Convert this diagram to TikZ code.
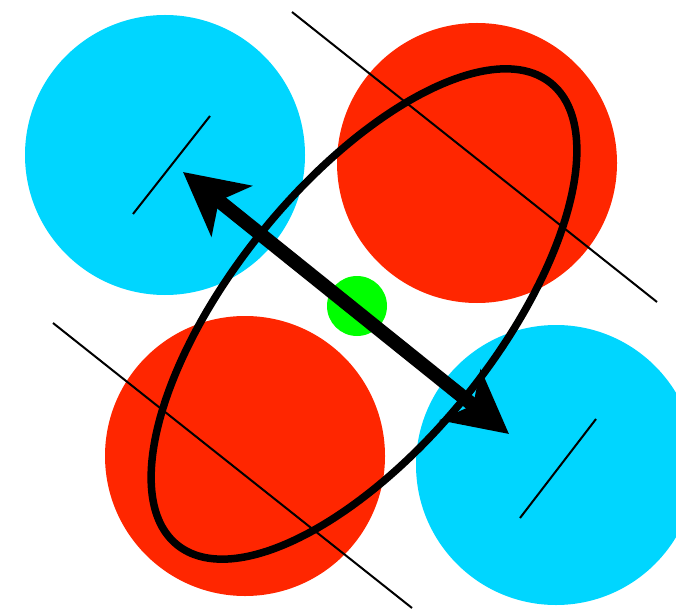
\documentclass[tikz,border=0pt]{standalone}
\usetikzlibrary{arrows.meta}

\definecolor{ioncyan}{RGB}{0,214,255}
\definecolor{ionred}{RGB}{255,38,0}
\definecolor{iongreen}{RGB}{0,255,0}

\begin{document}
\begin{tikzpicture}[x=1pt, y=-1pt, >={Stealth[length=62pt, width=64pt, inset=16pt]}]

    % Frame
    \useasboundingbox (0,0) rectangle (676,609);
    \clip (0,0) rectangle (676,609);

    % Centres of the four ions
    \coordinate (c1) at (165,155);
    \coordinate (c2) at (477,163);
    \coordinate (c3) at (245,456);
    \coordinate (c4) at (556,465);
    \coordinate (g) at (357,306);

    % Draw the ions
    \foreach \c/\col in {c1/ioncyan, c2/ionred, c3/ionred, c4/ioncyan}
        \fill[\col] (\c) circle (140pt);

    % Centre
    \fill[iongreen] (g) circle (30pt);

    % Long lines
    \coordinate (l1) at (292,12);
    \coordinate (l2) at (657,302);
    \coordinate (l3) at (53,323);
    \coordinate (l4) at (412,608);
    \draw[line width=2pt] (l1) -- (l2);
    \draw[line width=2pt] (l3) -- (l4);

    % Short bars
    \coordinate (s1) at (133,214);
    \coordinate (s2) at (210,116);
    \coordinate (s3) at (520,518);
    \coordinate (s4) at (596,419);
    \draw[line width=2pt] (s1) -- (s2);
    \draw[line width=2pt] (s3) -- (s4);

    % Ellipse
    \coordinate (e) at (364,314);
    \draw[line width=7.5pt, rotate around={51:(e)}] (e) ellipse [x radius=297pt, y radius=131pt];

    % Double arrow
    \coordinate (a0) at (183,172);
    \coordinate (a1) at (509,434);
    \draw[<->, line width=14pt] (a0) -- (a1);

\end{tikzpicture}
\end{document}
